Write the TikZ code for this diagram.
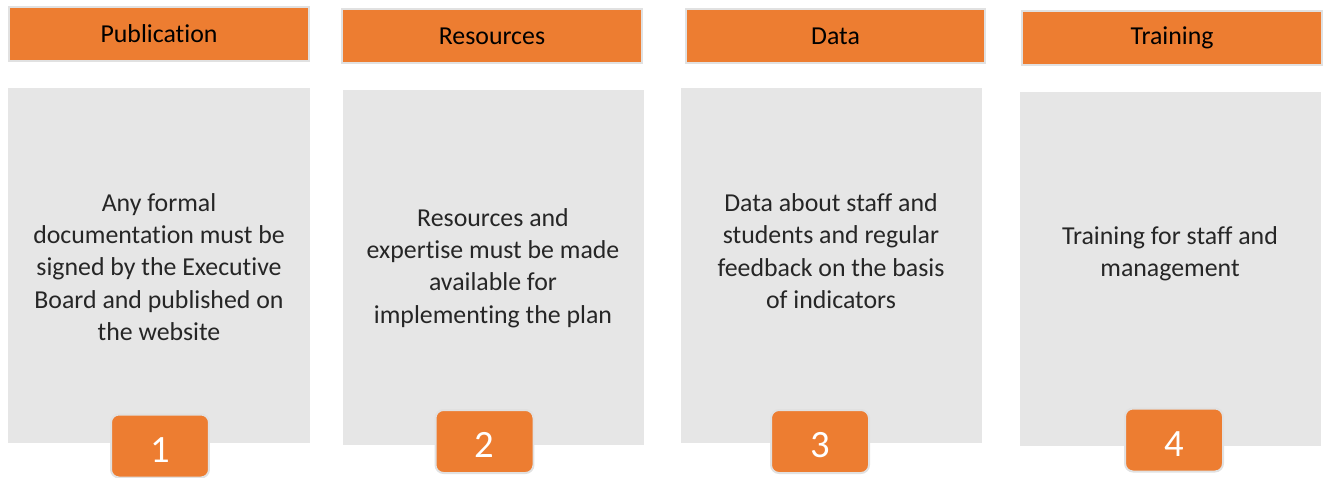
\documentclass[tikz,border=0pt]{standalone}
\usepackage{fontspec}
\setmainfont{Carlito}[Ligatures=NoCommon]
\usepackage{xcolor}
\usepackage{tikz}
\usetikzlibrary{positioning}
\definecolor{accentorange}{RGB}{237, 125, 49}
\definecolor{panelgray}{RGB}{230, 230, 230}
\definecolor{edgegray}{RGB}{225, 225, 225}

\begin{document}
\begin{tikzpicture}[
    x=0.02cm, y=-0.02cm,
    header/.style={draw=edgegray, line width=0.04cm, fill=accentorange, minimum width=6cm,
                   minimum height=1.1cm, inner sep=0pt, font=\fontsize{14.7}{18}\selectfont},
    panel/.style={fill=panelgray, minimum width=6.04cm, minimum height=7.1cm, inner sep=0pt},
    bodytext/.style={align=center, text=black!85, font=\fontsize{14.7}{18.4}\selectfont},
    numberbox/.style={draw=edgegray, line width=0.04cm, fill=accentorange, rounded corners=0.16cm,
                      minimum width=1.96cm, minimum height=1.26cm, inner sep=0pt,
                      text height=18.5pt, text depth=0pt, text=white, font=\fontsize{22}{26}\selectfont}
]
    \useasboundingbox (0,0) rectangle (1327,477);

    % headers
    \node[header] (pubhead) at (159,34) {Publication};
    \node[header] (reshead) at (492,36) {Resources};
    \node[header] (datahead) at (835.5,36) {Data};
    \node[header] (trainhead) at (1172,38) {Training};

    % gray panels
    \node[panel] (pubpanel) at (159,265.5) {};
    \node[panel] (respanel) at (493.5,267.5) {};
    \node[panel] (datapanel) at (831.5,265.5) {};
    \node[panel] (trainpanel) at (1170.5,269) {};

    % panel texts
    \node[bodytext] (pubtext) at (159,267) {Any formal\\documentation must be\\signed by the Executive\\Board and published on\\the website};
    \node[bodytext] (restext) at (493,268) {Resources and\\expertise must be made\\available for\\implementing the plan};
    \node[bodytext] (datatext) at (831,251) {Data about staff and\\students and regular\\feedback on the basis\\of indicators};
    \node[bodytext] (traintext) at (1170,254) {Training for staff and\\management};

    % numbers
    \node[numberbox] (pubnum) at (160,446) {1};
    \node[numberbox] (resnum) at (484.5,441.5) {2};
    \node[numberbox] (datanum) at (820,441.5) {3};
    \node[numberbox] (trainnum) at (1174,440) {4};
\end{tikzpicture}
\end{document}
